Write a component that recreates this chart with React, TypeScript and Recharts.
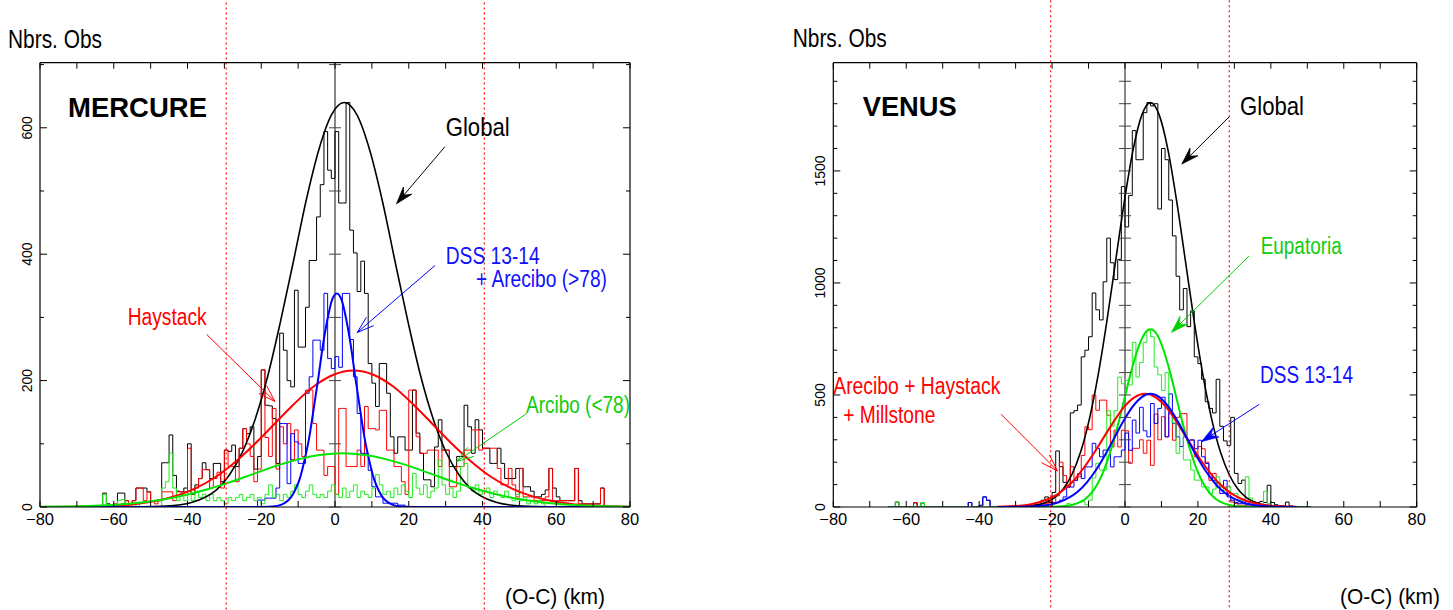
import React from 'react';
import { ComposedChart, Line, XAxis, YAxis, ReferenceLine, ReferenceDot } from 'recharts';

const FONT = '"Liberation Sans", Arial, Helvetica, sans-serif';

// ---------- shared axis ticks ----------
const xTicks = [-80, -70, -60, -50, -40, -30, -20, -10, 0, 10, 20, 30, 40, 50, 60, 70, 80];
const mercYTicks = [0, 100, 200, 300, 400, 500, 600, 700];
const venusYTicks = [0, 100, 200, 300, 400, 500, 600, 700, 800, 900, 1000, 1100, 1200, 1300, 1400, 1500, 1600, 1700, 1800, 1900];

// ---------- MERCURE histograms (1 km bins, value of bin [k, k+1)) ----------
const mercHistStart = -65;
const mercGlobalHist = [
  0, 0, 22, 5, 0, 0, 22, 22, 10, 5,
  10, 30, 30, 30, 24, 10, 10, 10, 70, 70,
  114, 50, 25, 24, 30, 100, 20, 35, 45, 70,
  59, 45, 69, 69, 40, 90, 88, 98, 64, 93,
  124, 116, 127, 60, 80, 217, 161, 160, 140, 69,
  275, 248, 200, 190, 343, 253, 253, 316, 390, 390,
  459, 510, 594, 533, 520, 594, 481, 481, 640, 438,
  402, 341, 389, 338, 227, 196, 159, 227, 227, 180,
  111, 85, 111, 111, 90, 90, 185, 117, 85, 43,
  43, 32, 95, 138, 90, 90, 64, 64, 80, 80,
  161, 127, 85, 138, 122, 93, 93, 69, 69, 93,
  69, 45, 45, 45, 61, 61, 32, 32, 25, 16,
  16, 20, 27, 61, 30, 16, 10, 10, 10, 10,
  61, 10, 5, 5, 5, 5, 5, 30, 0, 0,
  0,
];
const mercHaystackHist = [
  0, 0, 0, 0, 0, 5, 0, 5, 10, 0,
  10, 30, 30, 10, 24, 10, 5, 10, 24, 24,
  24, 10, 24, 24, 24, 93, 20, 30, 45, 59,
  59, 30, 45, 55, 30, 90, 64, 64, 40, 93,
  124, 100, 80, 40, 60, 217, 110, 80, 156, 60,
  127, 100, 132, 75, 122, 100, 80, 185, 185, 132,
  90, 90, 50, 64, 64, 20, 156, 156, 64, 64,
  64, 90, 64, 159, 124, 124, 122, 153, 153, 90,
  90, 64, 64, 40, 20, 185, 185, 111, 85, 85,
  90, 90, 90, 64, 90, 90, 32, 32, 64, 64,
  90, 90, 122, 122, 90, 93, 93, 93, 93, 61,
  35, 35, 61, 35, 16, 61, 16, 16, 16, 10,
  10, 10, 16, 61, 10, 10, 10, 10, 10, 10,
  61, 5, 5, 5, 5, 5, 5, 30, 0, 0,
  0,
];
const mercDssStart = -25;
const mercDssHist = [
  0, 0, 0, 0, 11, 11, 14, 14, 14, 30,
  132, 132, 37, 116, 103, 69, 69, 180, 206, 264,
  264, 248, 338, 235, 219, 238, 221, 338, 338, 265,
  206, 148, 85, 85, 58, 32, 16, 16, 6, 6,
  6, 6, 3, 3, 0, 0,
];
const mercArecHist = [
  0, 0, 20, 0, 0, 0, 10, 12, 0, 0,
  0, 5, 0, 0, 0, 0, 0, 0, 30, 40,
  85, 30, 10, 20, 10, 25, 10, 25, 15, 20,
  10, 20, 10, 15, 10, 5, 15, 10, 15, 20,
  10, 15, 20, 10, 15, 5, 20, 35, 15, 20,
  10, 20, 15, 25, 35, 20, 15, 25, 35, 20,
  15, 20, 15, 25, 35, 20, 15, 30, 15, 25,
  35, 15, 25, 20, 15, 30, 51, 35, 20, 25,
  15, 30, 20, 35, 25, 15, 53, 30, 20, 35,
  15, 25, 30, 74, 35, 20, 30, 15, 25, 64,
  69, 30, 25, 35, 20, 25, 30, 15, 25, 20,
  15, 25, 15, 10, 20, 10, 15, 5, 10, 5,
  10, 5, 0, 0, 0, 0,
];

// ---------- MERCURE fitted curves (x km, count) ----------
const mercGlobalFit = [[-80, 0], [-52.7, 0.2], [-45.8, 1.4], [-38.9, 7.1], [-35.5, 14.6], [-32, 28], [-28.6, 51], [-25.1, 87], [-21.7, 138], [-18.2, 208], [-14.8, 293], [-11.3, 388], [-7.9, 483], [-4.4, 565], [-1, 620], [2.5, 640], [6, 620], [9.4, 565], [12.9, 483], [16.3, 388], [19.8, 293], [23.2, 208], [26.7, 138], [30.1, 87], [33.6, 51], [37, 28], [40.5, 14.6], [43.9, 7.1], [50.8, 1.4], [57.7, 0.2], [80, 0]];
const mercHaystackFit = [[-80, 0.1], [-70.3, 0.5], [-59.5, 2.4], [-54.1, 4.9], [-48.8, 9.5], [-43.4, 17.2], [-38, 29.2], [-32.6, 46.7], [-27.3, 70.1], [-21.9, 98.9], [-16.5, 131], [-11.1, 163], [-5.8, 190.6], [-0.4, 209.3], [5, 216], [10.4, 209.3], [15.8, 190.6], [21.1, 163], [26.5, 131], [31.9, 98.9], [37.3, 70.1], [42.6, 46.7], [48, 29.2], [53.4, 17.2], [58.8, 9.5], [64.1, 4.9], [69.5, 2.4], [80, 0.5]];
const mercDssFit = [[-80, 0], [-19.5, 0.1], [-17, 0.7], [-14.5, 3.8], [-13.3, 7.7], [-12, 14.8], [-10.8, 26.9], [-9.5, 45.7], [-8.3, 73.1], [-7, 109.7], [-5.8, 154.7], [-4.5, 205], [-3.3, 255.1], [-2, 298.3], [-0.8, 327.6], [0.5, 338], [1.8, 327.6], [3, 298.3], [4.3, 255.1], [5.5, 205], [6.8, 154.7], [8, 109.7], [9.3, 73.1], [10.5, 45.7], [11.8, 26.9], [13, 14.8], [14.3, 7.7], [15.5, 3.8], [18, 0.7], [20.5, 0.1], [80, 0]];
const mercArecFit = [[-80, 0.3], [-71.5, 0.9], [-65.4, 1.9], [-59.3, 3.7], [-53.1, 6.8], [-47, 11.5], [-40.9, 18.4], [-34.8, 27.6], [-28.6, 38.9], [-22.5, 51.6], [-16.4, 64.2], [-10.3, 75], [-4.1, 82.4], [2, 85], [8.1, 82.4], [14.3, 75], [20.4, 64.2], [26.5, 51.6], [32.6, 38.9], [38.8, 27.6], [44.9, 18.4], [51, 11.5], [57.1, 6.8], [63.3, 3.7], [69.4, 1.9], [75.5, 0.9], [80, 0.5]];

// ---------- VENUS histograms ----------
const venusHistStart = -65;
const venusGlobalHist = [
  0, 0, 22, 0, 0, 0, 0, 18, 0, 18,
  0, 0, 0, 0, 0, 0, 0, 0, 0, 0,
  0, 0, 20, 0, 0, 8, 45, 30, 0, 0,
  0, 0, 0, 0, 0, 0, 0, 0, 0, 5,
  10, 12, 30, 45, 20, 65, 250, 180, 110, 90,
  420, 430, 455, 670, 700, 760, 955, 880, 835, 1005,
  1200, 1090, 1015, 1105, 1430, 1250, 1390, 1680, 1550, 1550,
  1760, 1805, 1790, 1800, 1330, 1600, 1550, 1370, 1210, 1030,
  880, 975, 805, 875, 670, 640, 570, 470, 440, 420,
  570, 360, 295, 275, 400, 150, 105, 120, 25, 20,
  22, 20, 25, 20, 97, 20, 10, 5, 5, 22,
  5, 0, 0, 0, 0, 0,
];
const venusAHMHist = [
  0, 0, 0, 0, 0, 0, 0, 20, 0, 0,
  0, 0, 0, 0, 0, 0, 0, 0, 0, 0,
  0, 0, 0, 0, 0, 0, 0, 0, 0, 0,
  0, 0, 0, 0, 0, 0, 0, 0, 0, 3,
  5, 8, 10, 15, 25, 20, 50, 200, 140, 90,
  180, 120, 135, 230, 358, 345, 500, 432, 477, 477,
  410, 268, 343, 268, 343, 340, 195, 262, 262, 300,
  240, 298, 186, 415, 300, 403, 313, 417, 298, 400,
  417, 417, 298, 298, 224, 270, 260, 200, 119, 150,
  104, 90, 89, 60, 22, 15, 8, 8, 5, 5,
  5, 3, 3, 3, 2, 2, 5, 5, 0, 0,
  0, 0, 0, 0, 0, 0,
];
const venusDssHist = [
  0, 0, 0, 0, 0, 0, 0, 0, 0, 0,
  0, 0, 0, 0, 0, 0, 0, 0, 0, 0,
  0, 0, 20, 0, 0, 5, 45, 30, 0, 0,
  0, 0, 0, 0, 0, 0, 0, 0, 0, 0,
  0, 0, 0, 5, 10, 15, 20, 30, 45, 89,
  89, 119, 149, 127, 179, 179, 284, 261, 224, 254,
  254, 179, 224, 224, 254, 330, 253, 388, 330, 445,
  340, 313, 462, 373, 440, 490, 313, 505, 373, 313,
  270, 313, 298, 300, 260, 298, 224, 194, 134, 119,
  89, 60, 119, 45, 30, 20, 15, 15, 10, 10,
  8, 5, 5, 3, 3, 2, 0, 0, 0, 0,
  0, 0, 0, 0, 0, 0,
];
const venusEupHist = [
  0, 0, 22, 0, 0, 0, 0, 0, 0, 20,
  0, 0, 0, 0, 0, 0, 0, 0, 0, 0,
  0, 0, 0, 0, 0, 0, 0, 0, 0, 0,
  0, 0, 0, 0, 0, 0, 0, 0, 0, 0,
  0, 0, 0, 0, 0, 0, 0, 0, 5, 15,
  10, 15, 20, 25, 10, 30, 130, 195, 165, 165,
  430, 360, 430, 580, 550, 565, 545, 735, 580, 645,
  735, 790, 760, 625, 590, 520, 600, 430, 375, 240,
  370, 210, 210, 165, 120, 120, 90, 90, 60, 80,
  135, 90, 75, 90, 60, 60, 30, 30, 135, 40,
  20, 15, 10, 70, 15, 5, 0, 0, 0, 0,
  0, 0, 0, 0, 0, 0,
];

// ---------- VENUS fitted curves ----------
const venusGlobalFit = [[-35, 0.1], [-31.4, 0.6], [-26.6, 4], [-21.8, 20], [-19.4, 41], [-17, 79], [-14.6, 144], [-12.2, 244], [-9.8, 390], [-7.4, 586], [-5, 826], [-2.6, 1095], [-0.2, 1362], [2.2, 1593], [4.6, 1749], [7, 1805], [9.4, 1749], [11.8, 1593], [14.2, 1362], [16.6, 1095], [19, 826], [21.4, 586], [23.8, 390], [26.2, 244], [28.6, 144], [31, 79], [33.4, 41], [35.8, 20], [40.6, 4], [45.4, 0.6], [47, 0.2]];
const venusEupFit = [[-35, 0], [-21.8, 0.3], [-18.2, 1.7], [-14.6, 8.8], [-12.8, 18.1], [-11, 34.8], [-9.2, 63.1], [-7.4, 107.3], [-5.6, 171.5], [-3.8, 257.5], [-2, 363], [-0.2, 481], [1.6, 598.6], [3.4, 699.8], [5.2, 768.6], [7, 793], [8.8, 768.6], [10.6, 699.8], [12.4, 598.6], [14.2, 481], [16, 363], [17.8, 257.5], [19.6, 171.5], [21.4, 107.3], [23.2, 63.1], [25, 34.8], [26.8, 18.1], [28.6, 8.8], [32.2, 1.7], [35.8, 0.3], [47, 0]];
const venusAHMFit = [[-35, 1], [-29, 5.6], [-26.1, 11.5], [-23.3, 22.2], [-20.4, 40.2], [-17.5, 68.3], [-14.6, 109.2], [-11.8, 164], [-8.9, 231.2], [-6, 306.3], [-3.1, 381.2], [-0.3, 445.7], [2.6, 489.4], [5.5, 505], [8.4, 489.4], [11.3, 445.7], [14.1, 381.2], [17, 306.3], [19.9, 231.2], [22.8, 164], [25.6, 109.2], [28.5, 68.3], [31.4, 40.2], [34.3, 22.2], [37.1, 11.5], [40, 5.6], [45.8, 1.1], [47, 0.6]];
const venusDssFit = [[-35, 0.05], [-33, 0.2], [-28, 1.1], [-23, 5.6], [-20.5, 11.5], [-18, 22.2], [-15.5, 40.2], [-13, 68.3], [-10.5, 109.2], [-8, 164], [-5.5, 231.2], [-3, 306.3], [-0.5, 381.2], [2, 445.7], [4.5, 489.4], [7, 505], [9.5, 489.4], [12, 445.7], [14.5, 381.2], [17, 306.3], [19.5, 231.2], [22, 164], [24.5, 109.2], [27, 68.3], [29.5, 40.2], [32, 22.2], [34.5, 11.5], [37, 5.6], [42, 1.1], [47, 0.2]];

// ---------- dotted limits and annotation arrows (data units) ----------
const mercLimits = [-29.5, 40.5];
const venusLimits = [-20.4, 28.6];

const mercArrows = [
  { from: [29.8, 570], to: [16.7, 480], color: '#000000', filled: true },
  { from: [27.1, 382], to: [6.0, 276], color: '#0000ff', filled: false },
  { from: [-34.8, 273], to: [-16.3, 167], color: '#ff0000', filled: false },
  { from: [52.0, 148], to: [33.0, 72], color: '#00cc00', filled: false },
];
const venusArrows = [
  { from: [28.6, 1742], to: [15.6, 1531], color: '#000000', filled: true },
  { from: [34.0, 1120], to: [12.8, 780], color: '#00d000', filled: true },
  { from: [36.8, 458], to: [21.0, 292], color: '#0000ff', filled: true },
  { from: [-34.0, 414], to: [-18.5, 161], color: '#ff0000', filled: false },
];

// ---------- helpers ----------
const toHist = (start: number, vals: number[]) => {
  const d = vals.map((v, i) => ({ x: start + i, y: v }));
  d.push({ x: start + vals.length, y: 0 });
  return d;
};
const toCurve = (pts: number[][]) => pts.map(([x, y]) => ({ x, y }));
const fmt = (v: number) => (v < 0 ? `\u2212${-v}` : `${v}`);

const BottomTick = (p: any) => {
  const v = p.payload.value;
  return (
    <g>
      <line x1={p.x} y1={p.y} x2={p.x} y2={p.y - 6} stroke="#000" strokeWidth={1} />
      {v % 20 === 0 && (
        <text x={p.x} y={p.y + 18} textAnchor="middle" fontSize={16.5} fontFamily={FONT} fill="#000">
          {fmt(v)}
        </text>
      )}
    </g>
  );
};
const TopTick = (p: any) => (
  <line x1={p.x} y1={p.y} x2={p.x} y2={p.y + 6} stroke="#000" strokeWidth={1} />
);
const makeLeftTick = (major: number) => (p: any) => {
  const v = p.payload.value;
  const isMaj = v % major === 0;
  return (
    <g>
      <line x1={p.x} y1={p.y} x2={p.x + (isMaj ? 7 : 4)} y2={p.y} stroke="#000" strokeWidth={1} />
      {isMaj && (
        <text
          transform={`translate(${p.x - 13},${p.y}) rotate(-90)`}
          textAnchor="middle"
          dominantBaseline="central"
          fontSize={14}
          fontFamily={FONT}
          fill="#000"
        >
          {v}
        </text>
      )}
    </g>
  );
};
const makeRightTick = (major: number) => (p: any) => {
  const v = p.payload.value;
  const isMaj = v % major === 0;
  return <line x1={p.x} y1={p.y} x2={p.x - (isMaj ? 7 : 4)} y2={p.y} stroke="#000" strokeWidth={1} />;
};

const makeArrowShape = (color: string, filled: boolean) => (p: any) => {
  const { x1, y1, x2, y2 } = p;
  if ([x1, y1, x2, y2].some((v) => v === undefined || isNaN(v))) return <g />;
  const ang = Math.atan2(y2 - y1, x2 - x1);
  const L = 17;
  const W = 5.5;
  const bx = x2 - L * Math.cos(ang);
  const by = y2 - L * Math.sin(ang);
  const nx = -Math.sin(ang);
  const ny = Math.cos(ang);
  const lx = bx + W * nx;
  const ly = by + W * ny;
  const rx = bx - W * nx;
  const ry = by - W * ny;
  const mx = x2 - L * 0.65 * Math.cos(ang);
  const my = y2 - L * 0.65 * Math.sin(ang);
  return (
    <g>
      <line x1={x1} y1={y1} x2={x2} y2={y2} stroke={color} strokeWidth={1} />
      {filled ? (
        <polygon points={`${x2},${y2} ${lx},${ly} ${mx},${my} ${rx},${ry}`} fill={color} stroke={color} strokeWidth={0.8} />
      ) : (
        <g>
          <line x1={x2} y1={y2} x2={lx} y2={ly} stroke={color} strokeWidth={1} />
          <line x1={x2} y1={y2} x2={rx} y2={ry} stroke={color} strokeWidth={1} />
        </g>
      )}
    </g>
  );
};

type SeriesDef = { data: { x: number; y: number }[]; color: string; width: number; type: 'stepAfter' | 'monotone' };

type PanelProps = {
  left: number;
  width: number;
  margin: { top: number; right: number; bottom: number; left: number };
  yMax: number;
  yTicks: number[];
  yMajor: number;
  series: SeriesDef[];
  limits: number[];
  limitSpan: [number, number];
  arrows: { from: number[]; to: number[]; color: string; filled: boolean }[];
};

const AX = { stroke: '#000', strokeWidth: 1.2 };

const Panel = ({ left, width, margin, yMax, yTicks, yMajor, series, limits, limitSpan, arrows }: PanelProps) => (
  <div style={{ position: 'absolute', left, top: 0 }}>
    <ComposedChart width={width} height={610} margin={margin}>
      <XAxis
        xAxisId={0}
        type="number"
        dataKey="x"
        domain={[-80, 80]}
        allowDataOverflow
        ticks={xTicks}
        interval={0}
        height={1}
        tickSize={0}
        tickMargin={0}
        tickLine={false}
        tick={BottomTick}
        axisLine={AX}
      />
      <XAxis
        xAxisId="top"
        orientation="top"
        type="number"
        dataKey="x"
        domain={[-80, 80]}
        allowDataOverflow
        ticks={xTicks}
        interval={0}
        height={1}
        tickSize={0}
        tickMargin={0}
        tickLine={false}
        tick={TopTick}
        axisLine={AX}
      />
      <YAxis
        yAxisId={0}
        type="number"
        domain={[0, yMax]}
        allowDataOverflow
        ticks={yTicks}
        interval={0}
        width={1}
        tickSize={0}
        tickMargin={0}
        tickLine={false}
        tick={makeLeftTick(yMajor)}
        axisLine={AX}
      />
      <YAxis
        yAxisId="right"
        orientation="right"
        type="number"
        domain={[0, yMax]}
        allowDataOverflow
        ticks={yTicks}
        interval={0}
        width={1}
        tickSize={0}
        tickMargin={0}
        tickLine={false}
        tick={makeRightTick(yMajor)}
        axisLine={AX}
      />
      <ReferenceLine x={0} stroke="#555" strokeWidth={1.4} ifOverflow="visible" />
      {yTicks.map((v) => (
        <ReferenceDot
          key={`c${v}`}
          x={0}
          y={v}
          r={0}
          ifOverflow="visible"
          shape={(p: any) => (
            <line x1={p.cx - 6} y1={p.cy} x2={p.cx + 6} y2={p.cy} stroke="#444" strokeWidth={1} />
          )}
        />
      ))}
      {series.map((s, i) => (
        <Line
          key={`s${i}`}
          data={s.data}
          dataKey="y"
          type={s.type}
          stroke={s.color}
          strokeWidth={s.width}
          dot={false}
          activeDot={false}
          isAnimationActive={false}
        />
      ))}
      {limits.map((lx) => (
        <ReferenceLine
          key={`l${lx}`}
          segment={[{ x: lx, y: limitSpan[0] }, { x: lx, y: limitSpan[1] }]}
          stroke="#ff2020"
          strokeWidth={1.3}
          strokeDasharray="2 3"
          ifOverflow="visible"
        />
      ))}
      {arrows.map((a, i) => (
        <ReferenceLine
          key={`a${i}`}
          segment={[{ x: a.from[0], y: a.from[1] }, { x: a.to[0], y: a.to[1] }]}
          ifOverflow="visible"
          shape={makeArrowShape(a.color, a.filled)}
        />
      ))}
    </ComposedChart>
  </div>
);

const mercSeries: SeriesDef[] = [
  { data: toHist(mercHistStart, mercGlobalHist), color: '#000000', width: 1, type: 'stepAfter' },
  { data: toHist(mercHistStart, mercHaystackHist), color: '#ff0000', width: 1, type: 'stepAfter' },
  { data: toHist(mercDssStart, mercDssHist), color: '#0000ff', width: 1, type: 'stepAfter' },
  { data: toHist(mercHistStart, mercArecHist), color: '#22ee22', width: 1, type: 'stepAfter' },
  { data: toCurve(mercGlobalFit), color: '#000000', width: 1.6, type: 'monotone' },
  { data: toCurve(mercHaystackFit), color: '#ff0000', width: 2, type: 'monotone' },
  { data: toCurve(mercDssFit), color: '#0000ff', width: 2, type: 'monotone' },
  { data: toCurve(mercArecFit), color: '#00e600', width: 2, type: 'monotone' },
];

const venusSeries: SeriesDef[] = [
  { data: toHist(venusHistStart, venusGlobalHist), color: '#000000', width: 1, type: 'stepAfter' },
  { data: toHist(venusHistStart, venusAHMHist), color: '#ff0000', width: 1, type: 'stepAfter' },
  { data: toHist(venusHistStart, venusDssHist), color: '#0000ff', width: 1, type: 'stepAfter' },
  { data: toHist(venusHistStart, venusEupHist), color: '#22ee22', width: 1, type: 'stepAfter' },
  { data: toCurve(venusGlobalFit), color: '#000000', width: 1.6, type: 'monotone' },
  { data: toCurve(venusEupFit), color: '#00e600', width: 2, type: 'monotone' },
  { data: toCurve(venusAHMFit), color: '#ff0000', width: 2, type: 'monotone' },
  { data: toCurve(venusDssFit), color: '#0000ff', width: 2, type: 'monotone' },
];

const T = (props: { x: number; y: number; w: number; size: number; color?: string; bold?: boolean; children: string }) => (
  <text
    x={props.x}
    y={props.y}
    fontSize={props.size}
    fontFamily={FONT}
    fontWeight={props.bold ? 'bold' : 'normal'}
    fill={props.color || '#000'}
    textLength={props.w}
    lengthAdjust="spacingAndGlyphs"
  >
    {props.children}
  </text>
);

export default function App() {
  return (
    <div style={{ position: 'absolute', left: 0, top: 0, width: 1453, height: 610, background: '#fff', overflow: 'hidden' }}>
      <Panel
        left={0}
        width={700}
        margin={{ top: 61.7, right: 69, bottom: 102, left: 39 }}
        yMax={703}
        yTicks={mercYTicks}
        yMajor={200}
        series={mercSeries}
        limits={mercLimits}
        limitSpan={[-170, 810]}
        arrows={mercArrows}
      />
      <Panel
        left={780}
        width={673}
        margin={{ top: 61.7, right: 35.3, bottom: 102, left: 52.3 }}
        yMax={1983}
        yTicks={venusYTicks}
        yMajor={500}
        series={venusSeries}
        limits={venusLimits}
        limitSpan={[-470, 2280]}
        arrows={venusArrows}
      />
      <svg width={1453} height={610} style={{ position: 'absolute', left: 0, top: 0, pointerEvents: 'none' }}>
        <T x={8} y={48} w={94} size={25}>Nbrs. Obs</T>
        <T x={68} y={116.5} w={139} size={28} bold>MERCURE</T>
        <T x={445.7} y={136} w={64} size={25}>Global</T>
        <T x={445.7} y={264} w={94} size={23} color="#1010ff">DSS 13-14</T>
        <T x={476} y={286.7} w={131} size={23} color="#1010ff">+ Arecibo (&gt;78)</T>
        <T x={127.7} y={325} w={79} size={23} color="#ff0000">Haystack</T>
        <T x={526} y={413.3} w={104} size={23} color="#11cc11">Arcibo (&lt;78)</T>
        <T x={505} y={604} w={100} size={22}>(O-C) (km)</T>

        <T x={792.7} y={47} w={94} size={25}>Nbrs. Obs</T>
        <T x={862.7} y={116} w={94} size={28} bold>VENUS</T>
        <T x={1240} y={115} w={64} size={25}>Global</T>
        <T x={1260.7} y={254.3} w={81} size={23} color="#11cc11">Eupatoria</T>
        <T x={1260} y={383.3} w={93} size={23} color="#1010ff">DSS 13-14</T>
        <T x={833.3} y={394} w={167} size={23} color="#ff0000">Arecibo + Haystack</T>
        <T x={843.3} y={423.3} w={92} size={23} color="#ff0000">+ Millstone</T>
        <T x={1340} y={604} w={100} size={22}>(O-C) (km)</T>
      </svg>
    </div>
  );
}
